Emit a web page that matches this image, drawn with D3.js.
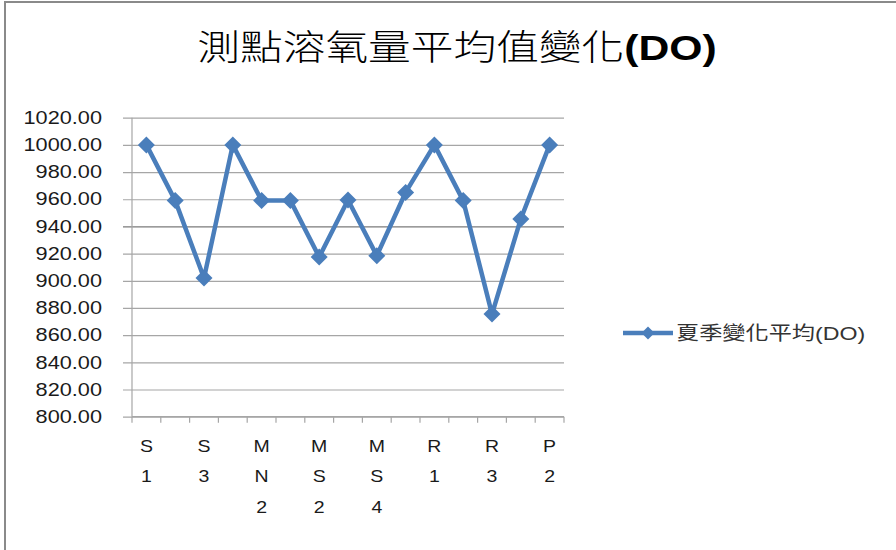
<!DOCTYPE html>
<html>
<head>
<meta charset="utf-8">
<script src="https://cdn.jsdelivr.net/npm/d3@7"></script>
<style>
  body { margin: 0; background: #fff; }
  svg { display: block; }
</style>
</head>
<body>
<div class="chart"></div>
<script>
const categories = ['S1', 'S2', 'S3', 'MN1', 'MN2', 'MS1', 'MS2', 'MS3', 'MS4', 'MS5', 'R1', 'R2', 'R3', 'P1', 'P2'];
const doValues = [1000, 959, 902, 1000, 959, 959, 917.5, 959.5, 918.5, 965, 1000, 959, 875.5, 945.5, 1000];
const yTicks = [800, 820, 840, 860, 880, 900, 920, 940, 960, 980, 1000, 1020];
const seriesName = '夏季變化平均(DO)';
const title = '測點溶氧量平均值變化';

const width = 896;
const height = 550;
const plot = { left: 132, right: 564, top: 117.7, bottom: 416.7 };
const stretch = 1.22; // text in the picture is wider than normal
const blue = '#4a7ebb';

const svg = d3.select('.chart')
  .append('svg')
    .attr('width', width)
    .attr('height', height);

// outer frame (left and top edges only are visible)
svg.append('path')
  .attr('d', `M5,${height} L5,2 L${width},2`)
  .attr('fill', 'none')
  .attr('stroke', '#8a8a8a')
  .attr('stroke-width', 2);

// title
const titleText = svg.append('text')
  .attr('transform', `translate(457, 60) scale(${stretch},1)`)
  .attr('text-anchor', 'middle')
  .attr('font-family', '"Noto Sans CJK TC", sans-serif')
  .attr('font-weight', 300)
  .attr('font-size', 35)
  .attr('fill', '#000');
titleText.append('tspan').text(title);
titleText.append('tspan')
  .attr('font-family', '"Liberation Sans", Arial, sans-serif')
  .attr('font-weight', 'bold')
  .text('(DO)');

const x = d3.scaleBand()
  .domain(categories)
  .range([plot.left, plot.right]);

const y = d3.scaleLinear()
  .domain([800, 1020])
  .range([plot.bottom, plot.top]);

const cx = d => x(d) + x.bandwidth() / 2;

// gridlines + y labels
const yAxisG = svg.append('g')
  .attr('transform', `translate(${plot.left - 9}, 0)`)
  .call(d3.axisLeft(y)
    .tickValues(yTicks)
    .tickSize(-(plot.right - plot.left + 9))
    .tickFormat(d => d.toFixed(2)));

yAxisG.select('.domain').remove();
yAxisG.selectAll('.tick line')
  .attr('stroke', d => d === 940 ? '#7a7a7a' : '#a6a6a6')
  .attr('stroke-width', 1.2);
yAxisG.selectAll('.tick text')
  .attr('x', null)
  .attr('transform', `translate(-21, 0) scale(${stretch},1)`)
  .attr('font-family', '"Liberation Sans", Arial, sans-serif')
  .attr('font-size', 17.8)
  .attr('fill', '#1a1a1a');

// vertical axis line
svg.append('line')
  .attr('x1', plot.left).attr('x2', plot.left)
  .attr('y1', y(1020)).attr('y2', y(800))
  .attr('stroke', '#a6a6a6')
  .attr('stroke-width', 1.2);

// x axis
const xAxisG = svg.append('g')
  .attr('transform', `translate(0, ${plot.bottom})`);

xAxisG.append('line')
  .attr('x1', plot.left).attr('x2', plot.right)
  .attr('stroke', '#a6a6a6')
  .attr('stroke-width', 1.2);

xAxisG.selectAll('.xtick')
  .data(categories.concat(['end']))
  .join('line')
    .attr('class', 'xtick')
    .attr('x1', (d, i) => plot.left + i * x.step())
    .attr('x2', (d, i) => plot.left + i * x.step())
    .attr('y1', 0).attr('y2', 6)
    .attr('stroke', '#a6a6a6')
    .attr('stroke-width', 1.2);

// category labels, one character per line, every other category
const labelG = svg.append('g');
labelG.selectAll('text')
  .data(categories.filter((d, i) => i % 2 === 0))
  .join('text')
    .attr('transform', d => `translate(${cx(d)}, 452) scale(${stretch},1)`)
    .attr('text-anchor', 'middle')
    .attr('font-family', '"Liberation Sans", Arial, sans-serif')
    .attr('font-size', 16)
    .attr('fill', '#1a1a1a')
    .each(function (d) {
      const t = d3.select(this);
      d.split('').forEach((ch, j) => {
        t.append('tspan')
          .attr('x', 0)
          .attr('y', j * 30.5)
          .text(ch);
      });
    });

// series line
const line = d3.line()
  .x((d, i) => cx(categories[i]))
  .y(d => y(d));

svg.append('path')
  .datum(doValues)
  .attr('d', line)
  .attr('fill', 'none')
  .attr('stroke', blue)
  .attr('stroke-width', 4.5)
  .attr('stroke-linejoin', 'round');

const diamond = s => `M0,${-s} L${s},0 L0,${s} L${-s},0 Z`;

svg.append('g')
  .selectAll('path')
  .data(doValues)
  .join('path')
    .attr('transform', (d, i) => `translate(${cx(categories[i])}, ${y(d)})`)
    .attr('d', diamond(8.5))
    .attr('fill', blue);

// legend
const legend = svg.append('g')
  .attr('transform', 'translate(623, 333)');

legend.append('line')
  .attr('x1', 0).attr('x2', 50)
  .attr('stroke', blue)
  .attr('stroke-width', 4.5);

legend.append('path')
  .attr('transform', 'translate(25, 0)')
  .attr('d', diamond(6.5))
  .attr('fill', blue);

const legendText = legend.append('text')
  .attr('transform', `translate(53, 7) scale(${stretch},1)`)
  .attr('font-family', '"Noto Sans CJK TC", sans-serif')
  .attr('font-size', 19)
  .attr('fill', '#333');
legendText.append('tspan').text(seriesName.replace('(DO)', ''));
legendText.append('tspan')
  .attr('font-family', '"Liberation Sans", Arial, sans-serif')
  .text('(DO)');
</script>
</body>
</html>
